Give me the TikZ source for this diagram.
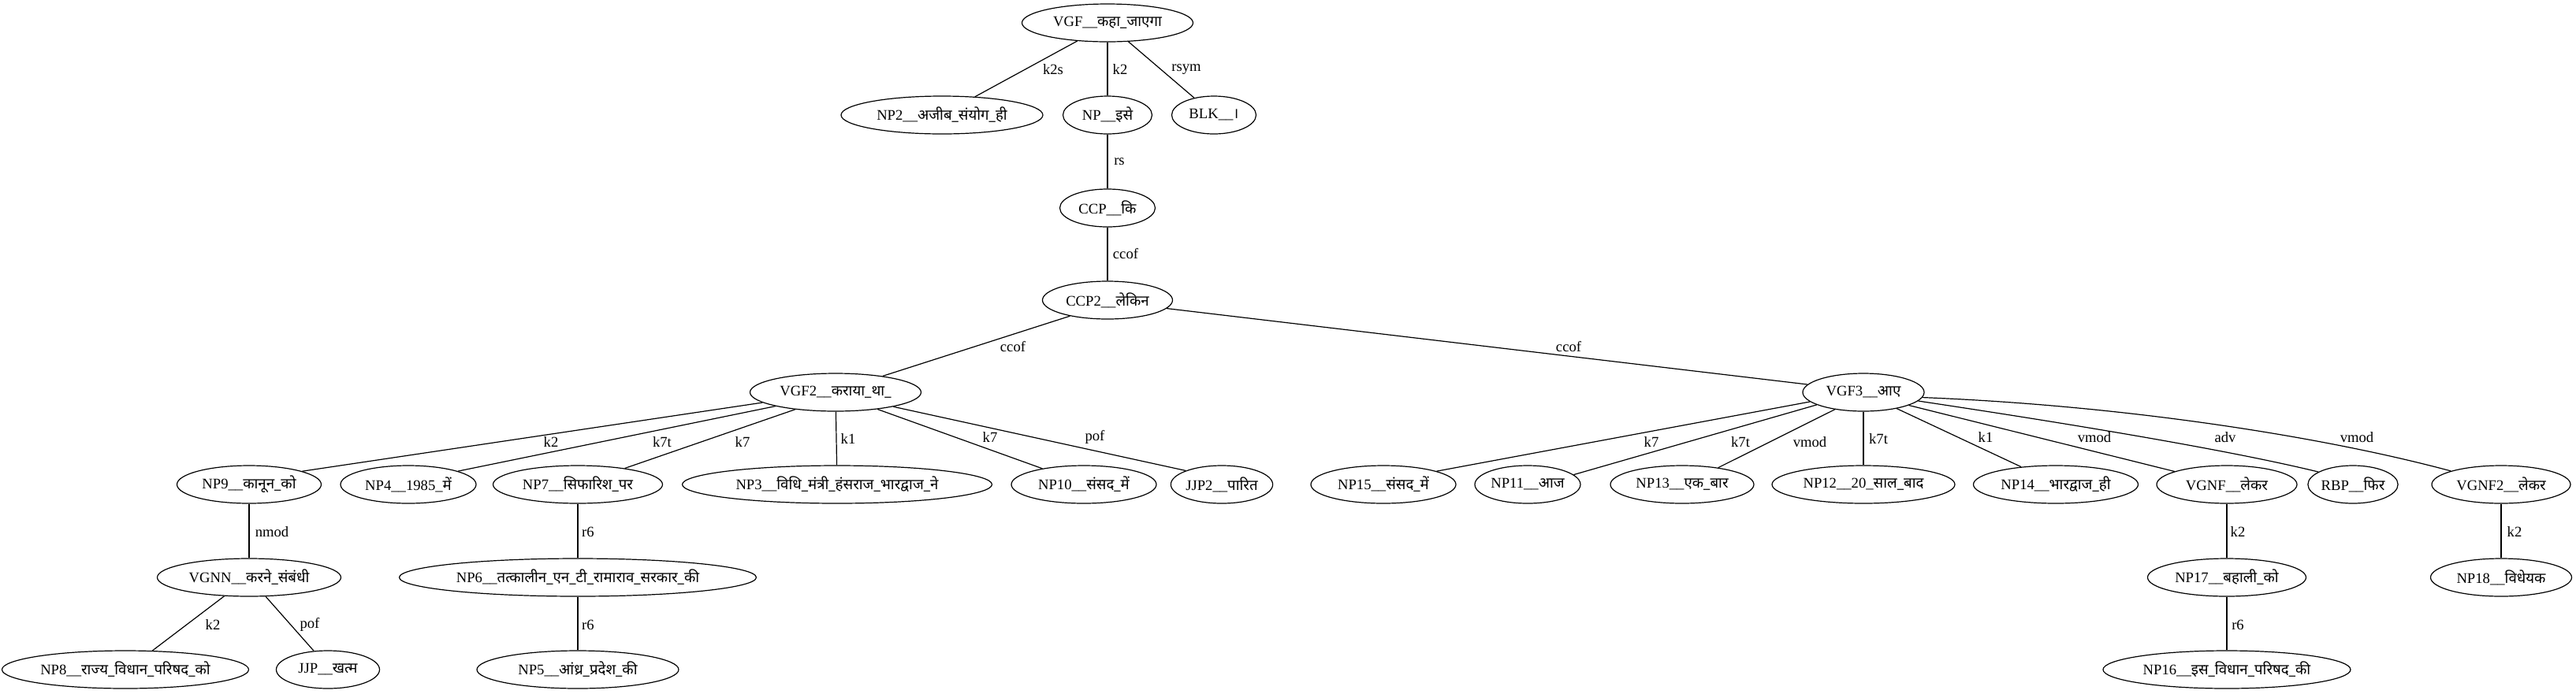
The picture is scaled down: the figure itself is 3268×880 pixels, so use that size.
\documentclass[tikz,border=0pt]{standalone}
\usepackage{fontspec}
\setmainfont{Liberation Serif}
\newfontfamily\dvfont[Script=Devanagari]{Noto Sans}
\newcommand\dn[1]{{\dvfont #1}}
\usetikzlibrary{shapes.geometric}
\tikzset{
  nd/.style={ellipse,draw,line width=0.6pt,inner sep=0pt,minimum height=24pt,minimum width=#1,
    font=\fontsize{9.33pt}{11pt}\selectfont},
  lb/.style={inner sep=0pt,font=\fontsize{9.33pt}{11pt}\selectfont},
  ed/.style={line width=0.6pt}
}
\begin{document}
\begin{tikzpicture}[x=0.5pt,y=-0.5pt]
\useasboundingbox (0,0) rectangle (3268,880);
% row 0
\node[nd=108.5pt] (vgf) at (1405,29) {VGF\_\_\dn{कहा\_जाएगा}};
% row 1
\node[nd=128pt] (np2) at (1195,146) {NP2\_\_\dn{अजीब\_संयोग\_ही}};
\node[nd=56.5pt] (np) at (1405,146) {NP\_\_\dn{इसे}};
\node[nd=53.5pt] (blk) at (1540,146) {BLK\_\_\dn{।}};
% row 2
\node[nd=60.5pt] (ccp) at (1405,264) {CCP\_\_\dn{कि}};
% row 3
\node[nd=82.5pt] (ccp2) at (1405,381) {CCP2\_\_\dn{लेकिन}};
% row 4
\node[nd=108.5pt] (vgf2) at (1060,498) {VGF2\_\_\dn{कराया\_था\_}};
\node[nd=77pt] (vgf3) at (2364,498) {VGF3\_\_\dn{आए}};
% row 5
\node[nd=91.5pt] (np9) at (316,615) {NP9\_\_\dn{कानून\_को}};
\node[nd=86pt] (np4) at (518,615) {NP4\_\_1985\_\dn{में}};
\node[nd=107.5pt] (np7) at (733,615) {NP7\_\_\dn{सिफारिश\_पर}};
\node[nd=196.5pt] (np3) at (1062,615) {NP3\_\_\dn{विधि\_मंत्री\_हंसराज\_भारद्वाज\_ने}};
\node[nd=92pt] (np10) at (1375,615) {NP10\_\_\dn{संसद\_में}};
\node[nd=60pt] (jjp2) at (1550,615) {JJP2\_\_\dn{पारित}};
\node[nd=92pt] (np15) at (1755,615) {NP15\_\_\dn{संसद\_में}};
\node[nd=67pt] (np11) at (1938,615) {NP11\_\_\dn{आज}};
\node[nd=91pt] (np13) at (2134,615) {NP13\_\_\dn{एक\_बार}};
\node[nd=116pt] (np12) at (2364,615) {NP12\_\_20\_\dn{साल\_बाद}};
\node[nd=104.5pt] (np14) at (2608,615) {NP14\_\_\dn{भारद्वाज\_ही}};
\node[nd=89pt] (vgnf) at (2825,615) {VGNF\_\_\dn{लेकर}};
\node[nd=56pt] (rbp) at (2985,615) {RBP\_\_\dn{फिर}};
\node[nd=88pt] (vgnf2) at (3173,615) {VGNF2\_\_\dn{लेकर}};
% row 6
\node[nd=116.5pt] (vgnn) at (316,733) {VGNN\_\_\dn{करने\_संबंधी}};
\node[nd=226.5pt] (np6) at (733,733) {NP6\_\_\dn{तत्कालीन\_एन\_टी\_रामाराव\_सरकार\_की}};
\node[nd=100.5pt] (np17) at (2825,733) {NP17\_\_\dn{बहाली\_को}};
\node[nd=89.5pt] (np18) at (3173,733) {NP18\_\_\dn{विधेयक}};
% row 7
\node[nd=156.5pt] (np8) at (159,850) {NP8\_\_\dn{राज्य\_विधान\_परिषद\_को}};
\node[nd=65.5pt] (jjp) at (416,850) {JJP\_\_\dn{खत्म}};
\node[nd=128pt] (np5) at (733,850) {NP5\_\_\dn{आंध्र\_प्रदेश\_की}};
\node[nd=157pt] (np16) at (2825,850) {NP16\_\_\dn{इस\_विधान\_परिषद\_की}};
% edges
\draw[ed] (vgf.211) -- (np2.29);
\draw[ed] (vgf) -- (np);
\draw[ed] (vgf.-42) -- (blk.139);
\draw[ed] (np) -- (ccp);
\draw[ed] (ccp) -- (ccp2);
\draw[ed] (ccp2.203) -- (vgf2.19);
\draw[ed] (ccp2.-8) -- (vgf3.172);
\draw[ed] (vgf2.188) -- (np9.14);
\draw[ed] (vgf2.193) -- (np4.15);
\draw[ed] (vgf2.203) -- (np7.19);
\draw[ed] (vgf2) -- (np3);
\draw[ed] (vgf2.-22) -- (np10.159);
\draw[ed] (vgf2.-14) -- (jjp2.159);
\draw[ed] (np9) -- (vgnn);
\draw[ed] (vgnn.217) -- (np8.35);
\draw[ed] (vgnn.-49) -- (jjp.127);
\draw[ed] (np7) -- (np6);
\draw[ed] (np6) -- (np5);
\draw[ed] (vgf3.190) -- (np15.14);
\draw[ed] (vgf3.195) -- (np11.12);
\draw[ed] (vgf3.211) -- (np13.25);
\draw[ed] (vgf3) -- (np12);
\draw[ed] (vgf3.-26) -- (np14.153);
\draw[ed] (vgf3.-16) -- (vgnf.166);
\draw[ed] (vgf3.-9) .. controls (2640,540) and (2830,572) .. (rbp.160);
\draw[ed] (vgf3.-5) .. controls (2700,515) and (2950,555) .. (vgnf2.165);
\draw[ed] (vgnf) -- (np17);
\draw[ed] (np17) -- (np16);
\draw[ed] (vgnf2) -- (np18);
% edge labels
\node[lb] (l1) at (1336,88) {k2s};
\node[lb] (l2) at (1421,88) {k2};
\node[lb] (l3) at (1505,88) {rsym};
\node[lb] (l4) at (1420,205) {rs};
\node[lb] (l5) at (1428,322) {ccof};
\node[lb] (l6) at (1285,440) {ccof};
\node[lb] (l7) at (1990,440) {ccof};
\node[lb] (l8) at (699,561) {k2};
\node[lb] (l9) at (840,561) {k7t};
\node[lb] (l10) at (942,561) {k7};
\node[lb] (l11) at (1076,557) {k1};
\node[lb] (l12) at (1256,555) {k7};
\node[lb] (l13) at (1389,555) {pof};
\node[lb] (l14) at (2095,561) {k7};
\node[lb] (l15) at (2208,561) {k7t};
\node[lb] (l16) at (2296,561) {vmod};
\node[lb] (l17) at (2383,557) {k7t};
\node[lb] (l18) at (2519,555) {k1};
\node[lb] (l19) at (2657,555) {vmod};
\node[lb] (l20) at (2823,555) {adv};
\node[lb] (l21) at (2990,555) {vmod};
\node[lb] (l22) at (345,675) {nmod};
\node[lb] (l23) at (746,675) {r6};
\node[lb] (l24) at (2839,675) {k2};
\node[lb] (l25) at (3190,675) {k2};
\node[lb] (l26) at (270,793) {k2};
\node[lb] (l27) at (393,793) {pof};
\node[lb] (l28) at (746,793) {r6};
\node[lb] (l29) at (2839,793) {r6};
\end{tikzpicture}
\end{document}
